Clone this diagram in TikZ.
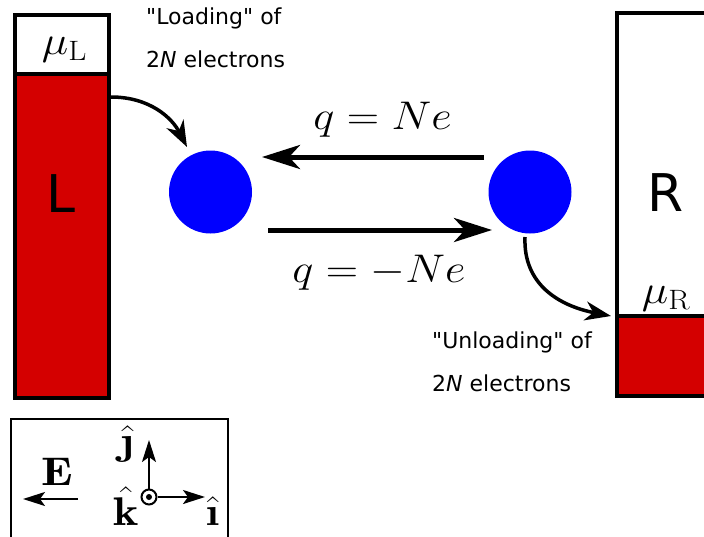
\RequirePackage{fix-cm}
\documentclass[tikz,border=0pt]{standalone}
\usepackage{fontspec}
\newfontfamily\dvs{DejaVu Sans}
\usetikzlibrary{arrows.meta}
\definecolor{boxred}{HTML}{D40000}
\begin{document}
\begin{tikzpicture}[x=1pt,y=-1pt,
  frame/.style={line width=4pt},
  bigarrow/.style={line width=5pt,-{Stealth[length=38pt,width=24pt,inset=11pt]}},
  curvearrow/.style={line width=3.5pt,-{Stealth[length=26pt,width=19pt,inset=8pt]}},
  axisarrow/.style={line width=2pt,-{Stealth[length=22pt,width=14pt,inset=5pt]}},
  dot/.style={circle,fill=blue,minimum size=83pt,inner sep=0pt},
  sanstext/.style={font=\dvs\fontsize{22}{26}\selectfont, anchor=base west, inner sep=0pt},
  bigletter/.style={font=\dvs\fontsize{52}{60}\selectfont, inner sep=0pt},
  mathtext/.style={font=\fontsize{40}{48}\selectfont, anchor=base, inner sep=0pt},
]
\clip (0,0) rectangle (704,536);
\fill[white] (0,0) rectangle (704,536);

% left reservoir
\draw[frame, fill=boxred] (15,73.5) rectangle (108.5,398);
\draw[frame, fill=white] (15,15) rectangle (108.5,73.5);
\node[bigletter] (Ltxt) at (61,194) {L};
\node[mathtext] (muL) at (64.5,54) {\scalebox{1.12}[1]{$\mu_{\mathrm{L}}$}};

% right reservoir
\draw[frame, fill=white] (617,13) rectangle (730,316);
\draw[frame, fill=boxred] (617,316) rectangle (730,396);
\node[bigletter] (Rtxt) at (666,192.5) {R};
\node[mathtext] (muR) at (666,303) {\scalebox{1.12}[1]{$\mu_{\mathrm{R}}$}};

% shuttles
\node[dot] (dL) at (210.5,192) {};
\node[dot] (dR) at (530,192) {};

% straight arrows
\coordinate (t1) at (484,157);
\coordinate (t2) at (262,157);
\draw[bigarrow] (t1) -- (t2);
\coordinate (b1) at (268,230);
\coordinate (b2) at (492,230);
\draw[bigarrow] (b1) -- (b2);
\node[mathtext] (qtop) at (382.5,129) {\scalebox{1.12}[1]{$q = Ne$}};
\node[mathtext] (qbot) at (379,282) {\scalebox{1.12}[1]{$q = -Ne$}};

% curved arrows
\coordinate (lc0) at (111,97);
\coordinate (lc1) at (187,147);
\draw[curvearrow] (lc0) .. controls (150,97) and (172,118) .. (lc1);
\coordinate (rc0) at (525,237);
\coordinate (rc1) at (611,316);
\draw[curvearrow] (rc0) .. controls (523,285) and (560,306) .. (rc1);

% texts
\node[sanstext] (load1) at (146,24) {"Loading" of};
\node[sanstext] (load2) at (146,67) {2{\itshape N} electrons};
\node[sanstext] (unl1) at (432,348) {"Unloading" of};
\node[sanstext] (unl2) at (432,391) {2{\itshape N} electrons};

% axis box
\draw[line width=2pt] (11,545) -- (11,419) -- (228,419) -- (228,545);
\node[mathtext] (E) at (57,485) {\scalebox{1.2}[1]{$\mathbf{E}$}};
\coordinate (e0) at (78,499);
\coordinate (e1) at (23,499);
\draw[axisarrow] (e0) -- (e1);
\node[circle, draw, line width=2pt, minimum size=15pt, inner sep=0pt] (org) at (149,497) {};
\node[circle, fill, minimum size=6pt, inner sep=0pt] (orgdot) at (org.center) {};
\coordinate (jtip) at (149,440);
\coordinate (itip) at (205,497);
\draw[axisarrow] (org.north) -- (jtip);
\draw[axisarrow] (org.east) -- (itip);
\node[mathtext] (jlab) at (127.5,454) {\scalebox{1.25}[1]{$\hat{\mbox{\bfseries\j}}$}};
\node[mathtext] (klab) at (126,525) {\scalebox{1.2}[1]{$\hat{\mathbf{k}}$}};
\node[mathtext] (ilab) at (213,525) {\scalebox{1.2}[1]{$\hat{\mbox{\bfseries\i}}$}};
\end{tikzpicture}
\end{document}
